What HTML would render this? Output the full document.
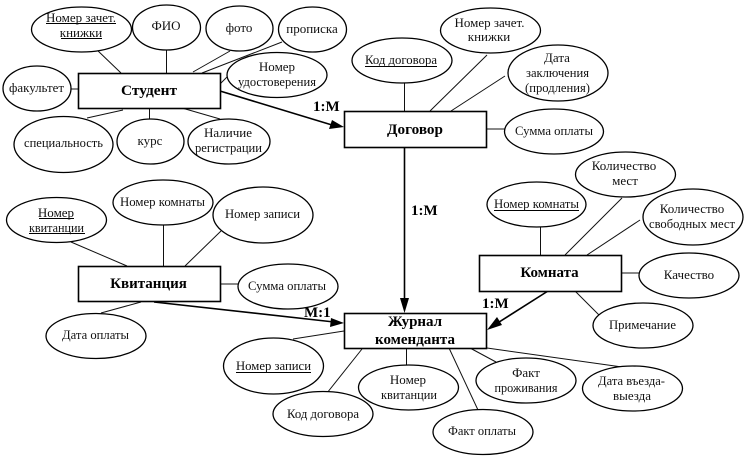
<!DOCTYPE html>
<html><head><meta charset="utf-8">
<style>
html,body{margin:0;padding:0;background:#fff}
svg{display:block}
text{font-family:"Liberation Serif",serif;font-size:13px;text-anchor:middle;fill:#111}
.b{font-weight:bold;font-size:15px;fill:#000}
.l{font-weight:bold;font-size:15px;text-anchor:start;fill:#000}
ellipse{fill:#fff;stroke:#000;stroke-width:1.3}
rect{fill:#fff;stroke:#000;stroke-width:1.6}
.t line{stroke:#111;stroke-width:1}
.a line{stroke:#000;stroke-width:1.6}
.u{stroke:#000;stroke-width:1}
</style></head><body>
<svg width="745" height="457" viewBox="0 0 745 457" xmlns="http://www.w3.org/2000/svg">
<g class="t">
<line x1="96" y1="49" x2="121" y2="73"/><line x1="166.500" y1="50" x2="166.500" y2="73"/>
<line x1="230" y1="51" x2="193" y2="72"/><line x1="282" y1="42" x2="202" y2="73"/>
<line x1="228" y1="76" x2="220" y2="84"/><line x1="71" y1="89" x2="78" y2="89"/>
<line x1="87" y1="118" x2="123" y2="110"/><line x1="149.500" y1="119" x2="149.500" y2="108"/>
<line x1="220" y1="119" x2="182" y2="108"/>
<line x1="404.500" y1="83" x2="404.500" y2="111"/><line x1="487" y1="55" x2="430" y2="111"/>
<line x1="505" y1="76" x2="451" y2="111"/><line x1="487" y1="129" x2="505" y2="129"/>
<line x1="622" y1="198" x2="565" y2="255"/><line x1="640" y1="220" x2="587" y2="255"/>
<line x1="540.500" y1="227" x2="540.500" y2="255"/><line x1="622" y1="273" x2="639" y2="273"/>
<line x1="575" y1="291" x2="599" y2="315"/>
<line x1="71" y1="242" x2="127" y2="266"/><line x1="163.500" y1="225" x2="163.500" y2="266"/>
<line x1="221" y1="231" x2="185" y2="266"/><line x1="220" y1="284" x2="238" y2="284"/>
<line x1="101" y1="313" x2="141" y2="302"/>
<line x1="293" y1="339" x2="344" y2="331"/><line x1="362" y1="349" x2="327" y2="393"/>
<line x1="406.500" y1="348" x2="406.500" y2="365"/><line x1="449" y1="348" x2="478" y2="410"/>
<line x1="470" y1="348" x2="496" y2="362"/><line x1="487" y1="348" x2="622" y2="367"/>
</g>
<g class="a">
<line x1="220" y1="91" x2="332" y2="125"/><line x1="404.500" y1="148" x2="404.500" y2="301"/>
<line x1="154" y1="302" x2="334" y2="322"/><line x1="548" y1="291" x2="496" y2="324"/>
</g>
<polygon points="344,127 329,129 332,120"/><polygon points="404.500,313 400,298 409,298"/>
<polygon points="344,323 330,327 331,318"/><polygon points="487,330 497,317 502,325"/>
<rect x="78.500" y="73.500" width="142" height="35"/><rect x="344.500" y="111.500" width="142" height="36"/>
<rect x="479.500" y="255.500" width="142" height="36"/><rect x="78.500" y="266.500" width="142" height="35"/>
<rect x="344.500" y="313.500" width="142" height="35"/>
<ellipse cx="81.500" cy="29.500" rx="50" ry="22.500"/><ellipse cx="166.500" cy="27.500" rx="34" ry="22.500"/>
<ellipse cx="239.500" cy="28.500" rx="33.500" ry="22.500"/><ellipse cx="312.500" cy="29.500" rx="34" ry="22.500"/>
<ellipse cx="277" cy="75" rx="50" ry="22.500"/><ellipse cx="37" cy="88.500" rx="34" ry="22.500"/>
<ellipse cx="63.500" cy="144.500" rx="49.500" ry="28"/><ellipse cx="150.500" cy="141.500" rx="33.500" ry="22.500"/>
<ellipse cx="229" cy="141.500" rx="41" ry="22.500"/>
<ellipse cx="402" cy="60.500" rx="50" ry="22.500"/><ellipse cx="490.500" cy="30.500" rx="50" ry="22.500"/>
<ellipse cx="558" cy="73" rx="50" ry="28"/><ellipse cx="554" cy="131.500" rx="49.500" ry="22.500"/>
<ellipse cx="625.500" cy="174.500" rx="50" ry="22.500"/><ellipse cx="536.500" cy="204.500" rx="49.500" ry="22.500"/>
<ellipse cx="693" cy="217" rx="50" ry="28"/><ellipse cx="689" cy="275.500" rx="50" ry="22.500"/>
<ellipse cx="643" cy="325.500" rx="50" ry="22.500"/>
<ellipse cx="56.500" cy="220" rx="50" ry="22.500"/><ellipse cx="163" cy="202.500" rx="50" ry="22.500"/>
<ellipse cx="263" cy="215" rx="50" ry="28"/><ellipse cx="288" cy="286.500" rx="50" ry="22.500"/>
<ellipse cx="96" cy="336" rx="50" ry="22.500"/>
<ellipse cx="273.500" cy="366" rx="50" ry="28"/><ellipse cx="323" cy="414" rx="50" ry="22.500"/>
<ellipse cx="408.500" cy="387.500" rx="50" ry="22.500"/><ellipse cx="483" cy="432" rx="50" ry="22.500"/>
<ellipse cx="526" cy="380.500" rx="50" ry="22.500"/><ellipse cx="632.500" cy="388.500" rx="50" ry="22.500"/>
<line class="u" x1="46" y1="23.500" x2="116" y2="23.500"/><line class="u" x1="61" y1="38.500" x2="102" y2="38.500"/>
<line class="u" x1="365" y1="66.500" x2="437" y2="66.500"/><line class="u" x1="494" y1="210.500" x2="579" y2="210.500"/>
<line class="u" x1="39" y1="218.500" x2="74" y2="218.500"/><line class="u" x1="29" y1="233.500" x2="85" y2="233.500"/>
<line class="u" x1="236" y1="372.500" x2="311" y2="372.500"/>
<text x="81" y="22" textLength="70" lengthAdjust="spacingAndGlyphs">Номер зачет.</text><text x="81" y="37">книжки</text>
<text x="166" y="30">ФИО</text><text x="239" y="32">фото</text><text x="312" y="33">прописка</text>
<text x="277" y="71">Номер</text><text x="277" y="86" textLength="78" lengthAdjust="spacingAndGlyphs">удостоверения</text>
<text x="36.500" y="92" textLength="55" lengthAdjust="spacingAndGlyphs">факультет</text><text x="63.500" y="147" textLength="79" lengthAdjust="spacingAndGlyphs">специальность</text><text x="150" y="145">курс</text>
<text x="228" y="137">Наличие</text><text x="228.500" y="152" textLength="67" lengthAdjust="spacingAndGlyphs">регистрации</text>
<text x="401" y="64" textLength="72" lengthAdjust="spacingAndGlyphs">Код договора</text>
<text x="489.500" y="27" textLength="70" lengthAdjust="spacingAndGlyphs">Номер зачет.</text><text x="489" y="41">книжки</text>
<text x="557" y="62">Дата</text><text x="557.500" y="77" textLength="63" lengthAdjust="spacingAndGlyphs">заключения</text><text x="557.500" y="92" textLength="65" lengthAdjust="spacingAndGlyphs">(продления)</text>
<text x="554" y="135" textLength="78" lengthAdjust="spacingAndGlyphs">Сумма оплаты</text>
<text x="624" y="170">Количество</text><text x="625" y="185">мест</text>
<text x="536.500" y="208" textLength="85" lengthAdjust="spacingAndGlyphs">Номер комнаты</text>
<text x="692" y="213">Количество</text><text x="692" y="228" textLength="86" lengthAdjust="spacingAndGlyphs">свободных мест</text>
<text x="689" y="279">Качество</text><text x="642.500" y="329" textLength="67" lengthAdjust="spacingAndGlyphs">Примечание</text>
<text x="56" y="217">Номер</text><text x="56.500" y="232" textLength="55" lengthAdjust="spacingAndGlyphs">квитанции</text>
<text x="162.500" y="206" textLength="85" lengthAdjust="spacingAndGlyphs">Номер комнаты</text><text x="262.500" y="218" textLength="75" lengthAdjust="spacingAndGlyphs">Номер записи</text>
<text x="287" y="290" textLength="78" lengthAdjust="spacingAndGlyphs">Сумма оплаты</text><text x="95.500" y="339" textLength="67" lengthAdjust="spacingAndGlyphs">Дата оплаты</text>
<text x="273.500" y="370" textLength="75" lengthAdjust="spacingAndGlyphs">Номер записи</text><text x="323" y="418" textLength="72" lengthAdjust="spacingAndGlyphs">Код договора</text>
<text x="408" y="384">Номер</text><text x="409" y="399" textLength="56" lengthAdjust="spacingAndGlyphs">квитанции</text>
<text x="482" y="435" textLength="68" lengthAdjust="spacingAndGlyphs">Факт оплаты</text>
<text x="526" y="377">Факт</text><text x="526" y="392" textLength="63" lengthAdjust="spacingAndGlyphs">проживания</text>
<text x="631.500" y="385" textLength="67" lengthAdjust="spacingAndGlyphs">Дата въезда-</text><text x="632" y="400">выезда</text>
<text class="b" x="149" y="95" textLength="56" lengthAdjust="spacingAndGlyphs">Студент</text><text class="b" x="415" y="134" textLength="56" lengthAdjust="spacingAndGlyphs">Договор</text>
<text class="b" x="549.500" y="277">Комната</text><text class="b" x="148.500" y="288">Квитанция</text>
<text class="b" x="415" y="326">Журнал</text><text class="b" x="415" y="344">коменданта</text>
<text class="l" x="313" y="111">1:М</text><text class="l" x="411" y="215">1:М</text>
<text class="l" x="304" y="317">М:1</text><text class="l" x="482" y="308">1:М</text>
</svg>
</body></html>
